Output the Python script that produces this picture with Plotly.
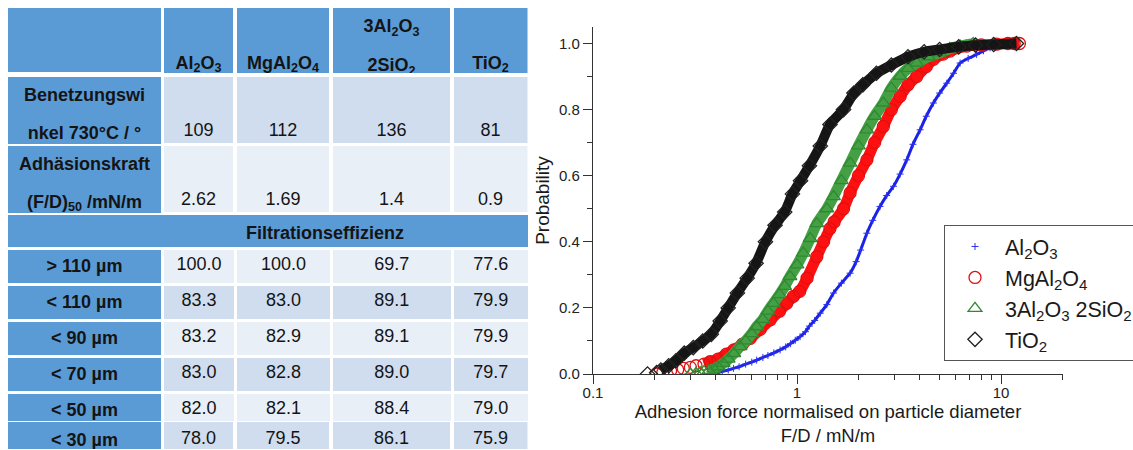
import numpy as np
import plotly.graph_objects as go

W, H = 1133, 450

# ---------------- table data ----------------
material_head_line1 = ["", "", "", "3Al<sub>2</sub>O<sub>3</sub>", ""]
material_head_line2 = ["", "Al<sub>2</sub>O<sub>3</sub>", "MgAl<sub>2</sub>O<sub>4</sub>",
                       "2SiO<sub>2</sub>", "TiO<sub>2</sub>"]
wetting_label = ["Benetzungswi", "nkel 730°C / °"]
wetting_angle = [109, 112, 136, 81]
adhesion_label = ["Adhäsionskraft", "(F/D)<sub>50</sub> /mN/m"]
adhesion_fd50 = [2.62, 1.69, 1.4, 0.9]
filtration_title = "Filtrationseffizienz"
size_classes = ["> 110 µm", "< 110 µm", "< 90 µm", "< 70 µm", "< 50 µm", "< 30 µm"]
eff_al2o3 = [100.0, 83.3, 83.2, 83.0, 82.0, 78.0]
eff_mgal2o4 = [100.0, 83.0, 82.9, 82.8, 82.1, 79.5]
eff_mullite = [69.7, 89.1, 89.1, 89.0, 88.4, 86.1]
eff_tio2 = [77.6, 79.9, 79.9, 79.7, 79.0, 75.9]

# ---------------- chart data (cumulative distributions) ----------------
series_names = ["Al<sub>2</sub>O<sub>3</sub>", "MgAl<sub>2</sub>O<sub>4</sub>",
                "3Al<sub>2</sub>O<sub>3</sub> 2SiO<sub>2</sub>", "TiO<sub>2</sub>"]

fd_al2o3 = [0.39, 0.41, 0.43, 0.46, 0.488, 0.52, 0.56, 0.60, 0.634, 0.68, 0.72, 0.77, 0.826, 0.88,
            0.93, 0.98, 1.035, 1.10, 1.15, 1.22, 1.30, 1.40, 1.51, 1.65, 1.82, 1.95, 2.05, 2.20,
            2.35, 2.55, 2.75, 2.97, 3.2, 3.45, 3.7, 4.01, 4.3, 4.66, 5.0, 5.42, 5.85, 6.3, 6.9,
            7.59, 8.2, 8.83, 9.4]
p_al2o3 = [0.0, 0.004, 0.008, 0.012, 0.017, 0.022, 0.03, 0.036, 0.042, 0.05, 0.056, 0.064, 0.073,
           0.082, 0.092, 0.102, 0.113, 0.128, 0.145, 0.162, 0.184, 0.21, 0.245, 0.275, 0.305,
           0.34, 0.375, 0.426, 0.465, 0.507, 0.54, 0.568, 0.605, 0.648, 0.695, 0.739, 0.78,
           0.82, 0.85, 0.88, 0.91, 0.941, 0.955, 0.967, 0.978, 0.987, 0.995]

fd_mgal2o4 = [0.205, 0.22, 0.24, 0.26, 0.277, 0.30, 0.32, 0.35, 0.375, 0.41, 0.45, 0.49, 0.54,
              0.59, 0.66, 0.74, 0.82, 0.89, 0.96, 1.03, 1.12, 1.25, 1.35, 1.45, 1.52, 1.69, 1.82,
              2.0, 2.2, 2.4, 2.65, 2.9, 3.2, 3.5, 3.86, 4.3, 4.66, 5.2, 5.62, 6.79, 8.0, 9.5,
              10.8, 11.6, 12.3]
p_mgal2o4 = [0.0, 0.005, 0.01, 0.013, 0.017, 0.02, 0.025, 0.03, 0.037, 0.045, 0.06, 0.073, 0.09,
             0.108, 0.135, 0.164, 0.19, 0.214, 0.235, 0.25, 0.29, 0.355, 0.40, 0.44, 0.46,
             0.50, 0.548, 0.60, 0.648, 0.70, 0.749, 0.80, 0.84, 0.875, 0.90, 0.93, 0.952, 0.968,
             0.977, 0.992, 0.996, 0.998, 1.0, 1.0, 1.0]

fd_mullite = [0.30, 0.32, 0.335, 0.35, 0.37, 0.39, 0.41, 0.435, 0.46, 0.49, 0.526, 0.56, 0.60,
              0.634, 0.68, 0.72, 0.766, 0.82, 0.87, 0.924, 1.0, 1.074, 1.16, 1.25, 1.40, 1.51,
              1.65, 1.82, 2.0, 2.2, 2.4, 2.65, 2.9, 3.2, 3.5, 3.86, 4.4, 5.0, 5.6, 6.3, 7.3]
p_mullite = [0.0, 0.002, 0.004, 0.007, 0.01, 0.015, 0.022, 0.032, 0.045, 0.062, 0.083, 0.10,
             0.122, 0.143, 0.165, 0.19, 0.214, 0.24, 0.265, 0.295, 0.33, 0.366, 0.41, 0.455,
             0.50, 0.537, 0.585, 0.638, 0.69, 0.739, 0.78, 0.82, 0.865, 0.901, 0.925, 0.941,
             0.96, 0.972, 0.985, 0.992, 1.0]

fd_tio2 = [0.185, 0.205, 0.215, 0.235, 0.255, 0.28, 0.31, 0.345, 0.38, 0.42, 0.46, 0.51, 0.57,
           0.63, 0.70, 0.78, 0.87, 0.95, 1.04, 1.15, 1.30, 1.45, 1.69, 1.90, 2.10, 2.45, 2.90,
           3.50, 4.20, 5.0, 6.2, 7.5, 9.2, 11.9]
p_tio2 = [0.0, 0.004, 0.012, 0.025, 0.04, 0.063, 0.08, 0.10, 0.12, 0.16, 0.20, 0.245, 0.29,
          0.335, 0.40, 0.45, 0.49, 0.545, 0.585, 0.63, 0.69, 0.755, 0.80, 0.85, 0.875, 0.91,
          0.935, 0.96, 0.975, 0.982, 0.99, 0.995, 0.997, 1.0]

# ---------------- styles ----------------
BLUE = "#5B9BD5"
DARK = "#D0DDEE"
LIGHT = "#E9EFF7"
TXT = "#141414"
FONT = "Liberation Sans"
tfont = dict(family=FONT, size=18, color=TXT)


def b(s):
    return "<b>" + s + "</b>" if s else s


def dom(x0, x1, y0, y1):
    return dict(x=[x0 / W, x1 / W], y=[1 - y1 / H, 1 - y0 / H])


fig = go.Figure()

# column separators (centres) and fill extents
col_sep = [6.5, 162.5, 235.5, 331.5, 452, 529.5]
col_fill = [(col_sep[i] + 1.5, col_sep[i + 1] - 1.5) for i in range(5)]

# ---- upper block: three two-line bands, one small table per column ----
bands = [
    dict(y=(8, 72), hh=36.5, ch=27.5,
         l1=[b(s) for s in material_head_line1], l2=[b(s) for s in material_head_line2],
         fill=[BLUE] * 5),
    dict(y=(77, 143), hh=37.5, ch=28.5,
         l1=[b(wetting_label[0])] + [""] * 4,
         l2=[b(wetting_label[1])] + [str(v) for v in wetting_angle],
         fill=[BLUE] + [DARK] * 4),
    dict(y=(146, 212), hh=37.5, ch=28.5,
         l1=[b(adhesion_label[0])] + [""] * 4,
         l2=[b(adhesion_label[1])] + [str(v) for v in adhesion_fd50],
         fill=[BLUE] + [LIGHT] * 4),
]
for band in bands:
    y0, y1 = band["y"]
    for j in range(5):
        x0, x1 = col_fill[j]
        fc = band["fill"][j]
        fig.add_trace(go.Table(
            domain=dom(x0, x1, y0, y1 + 1),
            columnwidth=[1],
            header=dict(values=[band["l1"][j]], height=band["hh"], fill_color=fc,
                        line=dict(color=fc, width=0), align="center", font=tfont),
            cells=dict(values=[[band["l2"][j]]], height=band["ch"], fill_color=fc,
                       line=dict(color=fc, width=0), align="center", font=tfont),
        ))

# ---- merged title row ----
fig.add_trace(go.Table(
    domain=dom(8, 528, 215, 248),
    columnwidth=[114, 406],
    header=dict(values=["", b(filtration_title)], height=32, fill_color=BLUE,
                line=dict(color=BLUE, width=0), align="center", font=tfont),
    cells=dict(values=[[], []], line=dict(color=BLUE, width=0)),
))

# ---- filtration rows (first five) ----
eff_cols = [eff_al2o3, eff_mgal2o4, eff_mullite, eff_tio2]
n_main = 5
row_fill = [LIGHT if i % 2 == 0 else DARK for i in range(6)]
fig.add_trace(go.Table(
    domain=dom(col_sep[0], col_sep[-1], 248, 421.5),
    columnwidth=[col_sep[i + 1] - col_sep[i] for i in range(5)],
    header=dict(values=[b(size_classes[0])] + [f"{c[0]:.1f}" for c in eff_cols],
                height=34.5, fill_color=[BLUE] + [row_fill[0]] * 4,
                line=dict(color="white", width=3), align="center", font=tfont),
    cells=dict(values=[[b(s) for s in size_classes[1:n_main]]] +
                      [[f"{v:.1f}" for v in c[1:n_main]] for c in eff_cols],
               height=34.5,
               fill_color=[[BLUE] * (n_main - 1)] + [row_fill[1:n_main]] * 4,
               line=dict(color="white", width=3), align="center", font=tfont),
))

# ---- last (cut) row: one table per column ----
last_vals = [b(size_classes[5])] + [f"{c[5]:.1f}" for c in eff_cols]
last_fill = [BLUE] + [row_fill[5]] * 4
for j in range(5):
    x0, x1 = col_fill[j]
    fig.add_trace(go.Table(
        domain=dom(x0, x1, 422, 450),
        columnwidth=[1],
        header=dict(values=[last_vals[j]], height=28, fill_color=last_fill[j],
                    line=dict(color=last_fill[j], width=0), align="center", font=tfont),
        cells=dict(values=[[]], line=dict(width=0)),
    ))

# ---------------- chart ----------------
styles = [
    dict(x=fd_al2o3, y=p_al2o3, color="#1a22e8", band=3, start=0,
         marker=dict(symbol="cross-thin", size=5, line=dict(color="#2a32f0", width=1))),
    dict(x=fd_mgal2o4, y=p_mgal2o4, color="#ff1010", band=11, start=7,
         marker=dict(symbol="circle-open", size=12, color="#e01010", line=dict(width=1.3))),
    dict(x=fd_mullite, y=p_mullite, color="#45a045", band=11, start=4,
         marker=dict(symbol="triangle-up-open", size=12, color="#2f8a2f", line=dict(width=1.3))),
    dict(x=fd_tio2, y=p_tio2, color="#151515", band=10, start=2,
         marker=dict(symbol="diamond-open", size=11, color="#202020", line=dict(width=1.3))),
]
for name, st in zip(series_names, styles):
    s = st["start"]
    fig.add_trace(go.Scatter(
        x=st["x"][s:], y=st["y"][s:], mode="lines", showlegend=False, hoverinfo="skip",
        line=dict(color=st["color"], width=st["band"], shape="spline", smoothing=0.5),
        xaxis="x", yaxis="y",
    ))
    fig.add_trace(go.Scatter(
        x=st["x"], y=st["y"], mode="markers", name=name, marker=st["marker"],
        xaxis="x", yaxis="y",
    ))

axis_color = "#333333"
fig.update_layout(
    width=W, height=H,
    margin=dict(l=0, r=0, t=0, b=0, autoexpand=False),
    paper_bgcolor="white", plot_bgcolor="white",
    font=dict(family=FONT, color="#222"),
    xaxis=dict(
        type="log", domain=[593 / W, 1063 / W], range=[-1, 1.3036],
        dtick=1, ticks="outside", ticklen=9, tickwidth=1.3, ticklabelstandoff=-4,
        tickcolor=axis_color, showline=True, linecolor=axis_color, linewidth=1.3,
        showgrid=False, zeroline=False, tickfont=dict(size=15, family=FONT, color="#222"),
        minor=dict(ticks="outside", ticklen=5, tickwidth=1.2, tickcolor=axis_color,
                   dtick="D1", showgrid=False),
        title=dict(text="Adhesion force normalised on particle diameter<br>F/D / mN/m",
                   font=dict(size=18.5, family=FONT, color="#1a1a1a"), standoff=0),
    ),
    yaxis=dict(
        domain=[1 - 374 / H, 1 - 27 / H], range=[0, 1.05], dtick=0.2, tickformat=".1f",
        ticks="outside", ticklen=9, tickwidth=1.3, tickcolor=axis_color,
        showline=True, linecolor=axis_color, linewidth=1.3, showgrid=False, zeroline=False,
        tickfont=dict(size=15, family=FONT, color="#222"),
        minor=dict(ticks="outside", ticklen=5, tickwidth=1.2, tickcolor=axis_color,
                   dtick=0.1, showgrid=False),
        title=dict(text="Probability", font=dict(size=19, family=FONT, color="#1a1a1a"),
                   standoff=4),
    ),
    legend=dict(x=944 / W, y=1 - 225 / H, xanchor="left", yanchor="top",
                bordercolor="#555", borderwidth=1, bgcolor="white", itemwidth=50,
                font=dict(size=21.5, family=FONT, color="#1a1a1a"), tracegroupgap=0),
    showlegend=True,
)

fig.write_html("out.html")
